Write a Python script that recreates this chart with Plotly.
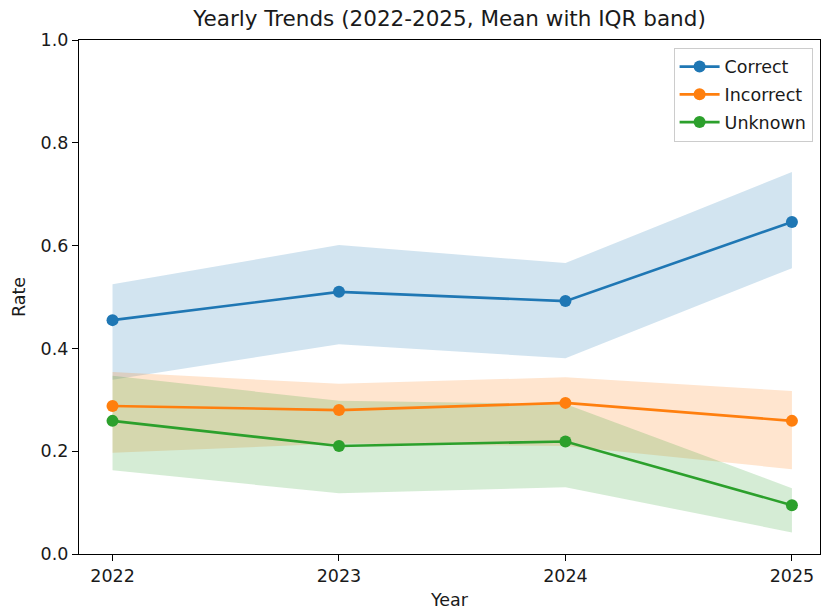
import plotly.graph_objects as go

# Yearly rates: mean with interquartile band
years = [2022, 2023, 2024, 2025]

correct_mean = [0.455, 0.510, 0.492, 0.646]
correct_q1 = [0.339, 0.408, 0.381, 0.556]
correct_q3 = [0.525, 0.601, 0.566, 0.743]

incorrect_mean = [0.288, 0.280, 0.294, 0.259]
incorrect_q1 = [0.197, 0.215, 0.210, 0.165]
incorrect_q3 = [0.354, 0.331, 0.344, 0.317]

unknown_mean = [0.259, 0.210, 0.219, 0.095]
unknown_q1 = [0.163, 0.118, 0.130, 0.042]
unknown_q3 = [0.347, 0.298, 0.292, 0.128]

series = [
    ("Correct", correct_mean, correct_q1, correct_q3, "#1f77b4", "rgba(31,119,180,0.2)"),
    ("Incorrect", incorrect_mean, incorrect_q1, incorrect_q3, "#ff7f0e", "rgba(255,127,14,0.2)"),
    ("Unknown", unknown_mean, unknown_q1, unknown_q3, "#2ca02c", "rgba(44,160,44,0.2)"),
]

FONT = "DejaVu Sans"
TEXT = "#1a1a1a"
fig = go.Figure()

# IQR bands
for name, mean, q1, q3, color, fill in series:
    fig.add_trace(go.Scatter(
        x=years + years[::-1],
        y=q3 + q1[::-1],
        fill="toself",
        fillcolor=fill,
        line=dict(width=0),
        mode="lines",
        hoverinfo="skip",
        showlegend=False,
    ))

# Mean lines
for name, mean, q1, q3, color, fill in series:
    fig.add_trace(go.Scatter(
        x=years,
        y=mean,
        name=name,
        legendgroup=name,
        mode="lines+markers",
        line=dict(color=color, width=2.6),
        marker=dict(color=color, size=12),
    ))

axis_common = dict(
    showline=True,
    mirror=True,
    linecolor="black",
    linewidth=1.2,
    ticks="outside",
    ticklen=6,
    tickwidth=1.2,
    tickcolor="black",
    showgrid=False,
    zeroline=False,
    tickfont=dict(family=FONT, size=17.5, color=TEXT),
)

fig.update_layout(
    width=821,
    height=610,
    paper_bgcolor="white",
    plot_bgcolor="white",
    margin=dict(l=79, r=1, t=40, b=56),
    title=dict(
        text="Yearly Trends (2022-2025, Mean with IQR band)",
        x=449.5 / 821,
        xanchor="center",
        y=1 - 18 / 610,
        yanchor="middle",
        font=dict(family=FONT, size=21.5, color=TEXT),
    ),
    xaxis=dict(
        range=[2021.852, 2025.124],
        tickvals=years,
        ticktext=[str(y) for y in years],
        title=dict(text="Year", font=dict(family=FONT, size=17.5, color=TEXT), standoff=9),
        **axis_common,
    ),
    yaxis=dict(
        range=[0, 1],
        tickvals=[0, 0.2, 0.4, 0.6, 0.8, 1.0],
        tickformat=".1f",
        title=dict(text="Rate", font=dict(family=FONT, size=17.5, color=TEXT), standoff=10),
        **axis_common,
    ),
    legend=dict(
        x=0.99,
        y=0.985,
        xanchor="right",
        yanchor="top",
        bgcolor="rgba(255,255,255,0.8)",
        bordercolor="#cccccc",
        borderwidth=1,
        font=dict(family=FONT, size=17.5, color=TEXT),
        itemwidth=40,
        tracegroupgap=2,
    ),
    showlegend=True,
)

fig.write_html("out.html")
